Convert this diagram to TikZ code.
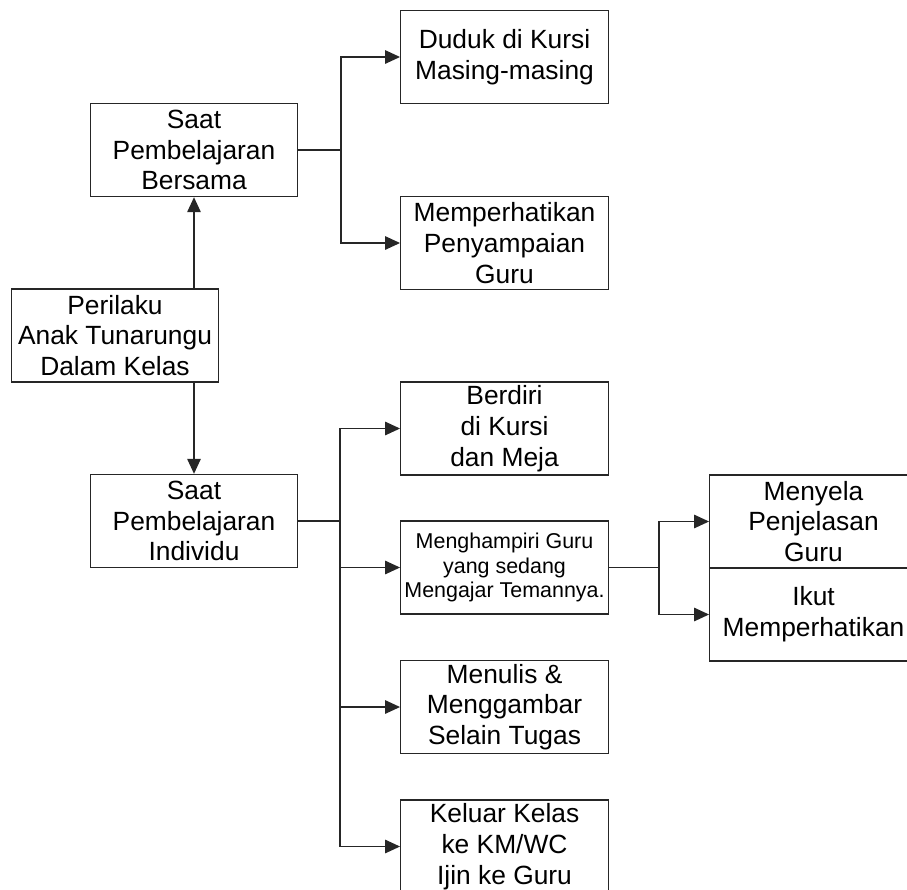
\documentclass[tikz,border=0pt]{standalone}
\usepackage{fontspec}
\setmainfont{Liberation Sans}
\usetikzlibrary{arrows.meta}
\usetikzlibrary{calc}
\usetikzlibrary{positioning}

\begin{document}
\begin{tikzpicture}[
    box/.style={draw=black!85,line width=0.8pt,minimum width=4.15cm,minimum height=1.86cm,
      inner sep=0pt,align=center,font=\fontsize{15}{17.5}\selectfont},
    smalltext/.style={font=\fontsize{12.2}{14}\selectfont},
    link/.style={draw=black!85,line width=0.8pt},
    arr/.style={link,-{Triangle[length=0.3cm,width=0.27cm]}}]
      \useasboundingbox (0,0) rectangle (18.14,-17.78);
      % left column
      \node[box] (perilaku) at (2.30,-6.71) {Perilaku\\Anak Tunarungu\\Dalam Kelas};
      \node[box] (bersama) at (3.88,-3.00) {Saat\\Pembelajaran\\Bersama};
      \node[box] (individu) at (3.88,-10.42) {Saat\\Pembelajaran\\Individu};
      % middle column
      \node[box] (duduk) at (10.09,-1.14) {Duduk di Kursi\\Masing-masing};
      \node[box] (memperhatikan) at (10.09,-4.86) {Memperhatikan\\Penyampaian\\Guru};
      \node[box] (berdiri) at (10.09,-8.57) {Berdiri\\di Kursi\\dan Meja};
      \node[box,smalltext] (menghampiri) at (10.09,-11.35) {Menghampiri Guru\\yang sedang\\Mengajar Temannya.};
      \node[box] (menulis) at (10.09,-14.14) {Menulis \&\\Menggambar\\Selain Tugas};
      \node[box] (keluar) at (10.09,-16.93) {Keluar Kelas\\ke KM/WC\\Ijin ke Guru};
      % right column
      \node[box] (menyela) at (16.27,-10.43) {Menyela\\Penjelasan\\Guru};
      \node[box,below=-0.8pt of menyela] (ikut) {Ikut\\Memperhatikan};
      % connectors
      \draw[arr] (perilaku.north -| bersama.south) -- (bersama.south);
      \draw[arr] (perilaku.south -| individu.north) -- (individu.north);
      \coordinate (forkA) at (6.82,-3.00);
      \draw[link] (bersama.east) -- (forkA);
      \draw[arr] (forkA) |- (duduk.west);
      \draw[arr] (forkA) |- (memperhatikan.west);
      \coordinate (forkB) at (6.80,-10.42);
      \draw[link] (individu.east) -- (forkB);
      \draw[arr] (forkB) |- (berdiri.west);
      \draw[arr] (forkB) |- (menghampiri.west);
      \draw[arr] (forkB) |- (menulis.west);
      \draw[arr] (forkB) |- (keluar.west);
      \coordinate (forkC) at (13.18,-11.35);
      \draw[link] (menghampiri.east) -- (forkC);
      \draw[arr] (forkC) |- (menyela.west);
      \draw[arr] (forkC) |- (ikut.west);
    \end{tikzpicture}
\end{document}
